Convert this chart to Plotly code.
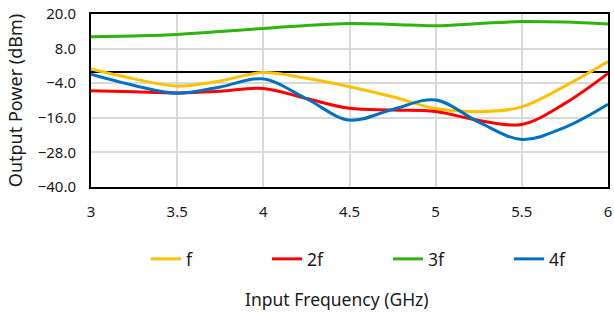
import plotly.graph_objects as go

freq = [3.0, 3.25, 3.5, 3.75, 4.0, 4.25, 4.5, 4.75, 5.0, 5.25, 5.5, 5.75, 6.0]
f1 = [0.9, -2.5, -5.0, -3.2, -0.3, -2.3, -5.2, -8.7, -12.8, -13.9, -12.2, -5.0, 3.5]
f2 = [-6.6, -7.0, -7.4, -6.8, -5.8, -9.3, -12.7, -13.3, -13.8, -16.9, -18.3, -11.0, -0.6]
f3 = [12.1, 12.4, 12.9, 13.9, 15.0, 16.0, 16.7, 16.4, 15.9, 16.7, 17.4, 17.2, 16.5]
f4 = [-0.9, -4.8, -7.5, -5.3, -2.5, -9.4, -16.8, -13.1, -9.8, -17.5, -23.5, -19.3, -11.3]

names = ["f", "2f", "3f", "4f"]
colors = ["#FFC000", "#FF0000", "#2DB40F", "#0070C0"]
series = [f1, f2, f3, f4]

y_ticks = [-40, -28, -16, -4, 8, 20]
x_ticks = [3, 3.5, 4, 4.5, 5, 5.5, 6]
x_title = "Input Frequency (GHz)"
y_title = "Output Power (dBm)"

fig = go.Figure()
for n, c, s in zip(names, colors, series):
    fig.add_trace(go.Scatter(x=freq, y=s, name=n, mode="lines",
                             line=dict(color=c, width=3, shape="spline", smoothing=1.0)))

W, H = 614, 312
fig.update_layout(
    width=W, height=H,
    margin=dict(l=91, r=6, t=14, b=125, autoexpand=False),
    paper_bgcolor="white", plot_bgcolor="white",
    font=dict(family="Noto Sans", size=15, color="#1a1a1a"),
    showlegend=True,
    legend=dict(orientation="h", x=55 / 517, xanchor="left", yref="container",
                y=1 - 259 / H, yanchor="middle", entrywidth=76,
                font=dict(size=17.5)),
    annotations=[dict(text=x_title, xref="paper", yref="paper",
                      x=(337 - 91) / 517, y=(187 - 299) / 173,
                      xanchor="center", yanchor="middle", showarrow=False,
                      font=dict(size=17.5))],
)
fig.update_xaxes(range=[3, 6], tickvals=x_ticks, ticktext=[str(v) for v in x_ticks],
                 showgrid=True, gridcolor="#D9D9D9", gridwidth=1.5,
                 showline=True, linecolor="black", linewidth=2, mirror=True,
                 zeroline=False, ticks="", tickfont=dict(size=15),
                 ticklabeloverflow="allow", ticklabelstandoff=10, automargin=False)
fig.update_yaxes(range=[-40, 20], tickvals=y_ticks, tickformat=".1f",
                 showgrid=True, gridcolor="#D9D9D9", gridwidth=1.5,
                 showline=True, linecolor="black", linewidth=2, mirror=True,
                 zeroline=True, zerolinecolor="black", zerolinewidth=2,
                 ticks="", tickfont=dict(size=15), ticklabelstandoff=10,
                 ticklabeloverflow="allow", automargin=False,
                 title=dict(text=y_title, font=dict(size=18), standoff=10))

fig.write_html("out.html", config={"displayModeBar": False},
               post_script="document.body.style.margin='0';document.body.style.overflow='hidden';")
